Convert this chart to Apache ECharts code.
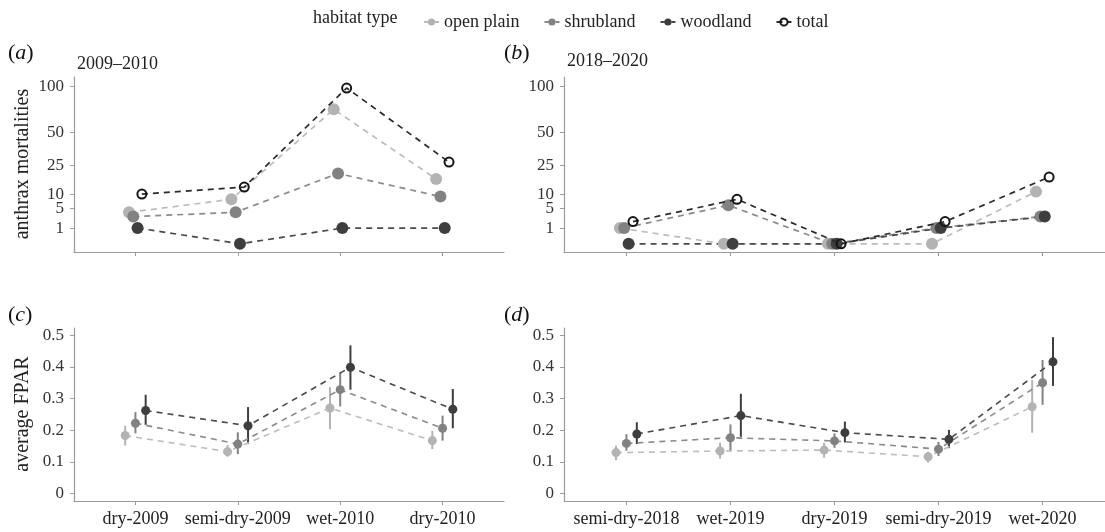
<!DOCTYPE html>
<html>
<head>
<meta charset="utf-8">
<script src="https://cdn.jsdelivr.net/npm/echarts@6/dist/echarts.min.js"></script>
<style>
html,body{margin:0;padding:0;background:#fff;}
#chart{width:1105px;height:532px;}
</style>
</head>
<body>
<div id="chart"></div>
<script>
// ---------- data ----------
const habitats = ['open plain', 'shrubland', 'woodland', 'total'];
const periodsA = ['dry-2009', 'semi-dry-2009', 'wet-2010', 'dry-2010'];
const periodsB = ['semi-dry-2018', 'wet-2019', 'dry-2019', 'semi-dry-2019', 'wet-2020'];
const mortTicks = [1, 5, 10, 25, 50, 100];
const fparTicks = [0, 0.1, 0.2, 0.3, 0.4, 0.5];

// anthrax mortalities (counts)
const mortA_open  = [4, 8, 73, 17];
const mortA_shrub = [3, 4, 20, 9];
const mortA_wood  = [1, 0, 1, 1];
const mortA_total = [10, 13, 98, 27];

const mortB_open  = [1, 0, 0, 0, 11];
const mortB_shrub = [1, 6, 0, 1, 3];
const mortB_wood  = [0, 0, 0, 1, 3];
const mortB_total = [2, 8, 0, 2, 18];

// average FPAR (mean, lower, upper)
const fparA_open      = [0.183, 0.132, 0.270, 0.167];
const fparA_open_lo   = [0.151, 0.116, 0.203, 0.140];
const fparA_open_hi   = [0.214, 0.153, 0.336, 0.198];
const fparA_shrub     = [0.222, 0.156, 0.328, 0.206];
const fparA_shrub_lo  = [0.190, 0.124, 0.275, 0.167];
const fparA_shrub_hi  = [0.257, 0.193, 0.383, 0.246];
const fparA_wood      = [0.262, 0.214, 0.399, 0.266];
const fparA_wood_lo   = [0.217, 0.156, 0.328, 0.206];
const fparA_wood_hi   = [0.312, 0.273, 0.468, 0.330];

const fparB_open      = [0.129, 0.134, 0.137, 0.116, 0.274];
const fparB_open_lo   = [0.105, 0.110, 0.113, 0.097, 0.192];
const fparB_open_hi   = [0.151, 0.161, 0.160, 0.132, 0.359];
const fparB_shrub     = [0.158, 0.176, 0.166, 0.140, 0.350];
const fparB_shrub_lo  = [0.135, 0.134, 0.144, 0.118, 0.280];
const fparB_shrub_hi  = [0.187, 0.218, 0.190, 0.163, 0.422];
const fparB_wood      = [0.188, 0.246, 0.192, 0.171, 0.416];
const fparB_wood_lo   = [0.156, 0.179, 0.161, 0.143, 0.340];
const fparB_wood_hi   = [0.225, 0.315, 0.227, 0.201, 0.494];

// ---------- styles ----------
const FONT = "'Liberation Serif','DejaVu Serif',serif";
const COL = {'open plain': '#b3b3b3', 'shrubland': '#828282', 'woodland': '#3e3e3e', 'total': '#151515'};
const LINECOL = {'open plain': '#bcbcbc', 'shrubland': '#8a8a8a', 'woodland': '#4a4a4a', 'total': '#2a2a2a'};
const AXCOL = '#9a9a9a';
const dodgeTop = {'open plain': -0.063, 'shrubland': -0.021, 'woodland': 0.021, 'total': 0.063};
const dodgeBot = {'open plain': -0.1, 'shrubland': 0, 'woodland': 0.1};

function mortSeries(g, name, vals) {
  const total = name === 'total';
  return {
    type: 'line', name: name, xAxisIndex: g, yAxisIndex: g,
    data: vals.map((v, i) => [i + dodgeTop[name], Math.sqrt(v)]),
    symbol: 'circle', symbolSize: total ? 9 : 12,
    itemStyle: total ? {color: 'rgba(255,255,255,0)', borderColor: COL.total, borderWidth: 2}
                     : {color: COL[name]},
    lineStyle: {color: LINECOL[name], width: 1.7, type: [6, 5]},
    z: total ? 5 : 3, animation: false, silent: true
  };
}
function fparSeries(g, name, vals) {
  return {
    type: 'line', name: name, xAxisIndex: g, yAxisIndex: g,
    data: vals.map((v, i) => [i + dodgeBot[name], v]),
    symbol: 'circle', symbolSize: 9,
    itemStyle: {color: COL[name]},
    lineStyle: {color: LINECOL[name], width: 1.6, type: [6, 5]},
    z: 4, animation: false, silent: true
  };
}
function errSeries(g, name, lo, hi) {
  return {
    type: 'custom', xAxisIndex: g, yAxisIndex: g,
    data: lo.map((l, i) => [i + dodgeBot[name], l, hi[i]]),
    encode: {x: 0, y: [1, 2]},
    renderItem: function (params, api) {
      const p1 = api.coord([api.value(0), api.value(1)]);
      const p2 = api.coord([api.value(0), api.value(2)]);
      return {type: 'line', shape: {x1: p1[0], y1: p1[1], x2: p2[0], y2: p2[1]},
              style: {stroke: COL[name], lineWidth: 2}};
    },
    z: 2, animation: false, silent: true
  };
}

function xAxisDef(g, cats, max, showLabels) {
  const idx = cats.map((c, i) => i);
  return {
    type: 'value', gridIndex: g, min: -0.6, max: max,
    splitLine: {show: false},
    axisLine: {show: true, onZero: false, lineStyle: {color: AXCOL, width: 1.2}},
    axisTick: {show: true, customValues: idx, length: 4, lineStyle: {color: AXCOL}},
    axisLabel: {show: showLabels, customValues: idx, margin: 9,
      formatter: v => cats[Math.round(v)] || '',
      fontFamily: FONT, fontSize: 18, color: '#222'}
  };
}
function yMortDef(g, min, max) {
  const vals = mortTicks.map(Math.sqrt);
  return {
    type: 'value', gridIndex: g, min: min, max: max,
    splitLine: {show: false},
    axisLine: {show: true, onZero: false, lineStyle: {color: AXCOL, width: 1.2}},
    axisTick: {show: true, customValues: vals, length: 4, lineStyle: {color: AXCOL}},
    axisLabel: {customValues: vals, margin: 10,
      formatter: v => String(Math.round(v * v)),
      fontFamily: FONT, fontSize: 17, color: '#333'}
  };
}
function yFparDef(g) {
  return {
    type: 'value', gridIndex: g, min: -0.024, max: 0.523,
    splitLine: {show: false},
    axisLine: {show: true, onZero: false, lineStyle: {color: AXCOL, width: 1.2}},
    axisTick: {show: true, customValues: fparTicks, length: 4, lineStyle: {color: AXCOL}},
    axisLabel: {customValues: fparTicks, margin: 10,
      formatter: v => (Math.abs(v) < 1e-9 ? '0' : (Math.round(v * 10) / 10).toFixed(1)),
      fontFamily: FONT, fontSize: 17, color: '#333'}
  };
}

function richLabel(x, y, letter) {
  return {type: 'text', x: x, y: y, silent: true,
    style: {
      text: '{p|(}{i|' + letter + '}{p|)}',
      rich: {
        p: {fontFamily: FONT, fontSize: 22, fill: '#111'},
        i: {fontFamily: FONT, fontSize: 22, fontStyle: 'italic', fill: '#111'}
      },
      textVerticalAlign: 'middle'
    }};
}
function plainText(x, y, txt, size, rot) {
  return {type: 'text', x: x, y: y, rotation: rot || 0, silent: true,
    style: {text: txt, fontFamily: FONT, fontSize: size, fill: '#222',
            textAlign: rot ? 'center' : 'left', textVerticalAlign: 'middle'}};
}

const chart = echarts.init(document.getElementById('chart'), null, {renderer: 'canvas'});
const option = {
  animation: false,
  backgroundColor: '#fff',
  legend: {
    data: habitats, left: 418, top: 8, itemWidth: 15, itemHeight: 9, itemGap: 24,
    textStyle: {fontFamily: FONT, fontSize: 18, color: '#222'},
    selectedMode: false
  },
  grid: [
    {left: 74, top: 77, width: 430, height: 175},
    {left: 564, top: 77, width: 549.6, height: 175},
    {left: 74, top: 328, width: 430, height: 173},
    {left: 564, top: 328, width: 549.6, height: 173}
  ],
  xAxis: [
    xAxisDef(0, periodsA, 3.6, false),
    xAxisDef(1, periodsB, 4.6, false),
    xAxisDef(2, periodsA, 3.6, true),
    xAxisDef(3, periodsB, 4.6, true)
  ],
  yAxis: [
    yMortDef(0, -0.52, 10.6),
    yMortDef(1, -0.52, 10.6),
    yFparDef(2),
    yFparDef(3)
  ],
  graphic: [
    plainText(313, 18, 'habitat type', 18),
    richLabel(8, 53, 'a'),
    plainText(77, 64, '2009–2010', 18),
    richLabel(504, 53, 'b'),
    plainText(567, 61, '2018–2020', 18),
    richLabel(8, 315, 'c'),
    richLabel(504, 315, 'd'),
    plainText(23, 164, 'anthrax mortalities', 20, Math.PI / 2),
    plainText(23, 414, 'average FPAR', 20, Math.PI / 2)
  ],
  series: [
    mortSeries(0, 'open plain', mortA_open),
    mortSeries(0, 'shrubland', mortA_shrub),
    mortSeries(0, 'woodland', mortA_wood),
    mortSeries(0, 'total', mortA_total),
    mortSeries(1, 'open plain', mortB_open),
    mortSeries(1, 'shrubland', mortB_shrub),
    mortSeries(1, 'woodland', mortB_wood),
    mortSeries(1, 'total', mortB_total),
    errSeries(2, 'open plain', fparA_open_lo, fparA_open_hi),
    errSeries(2, 'shrubland', fparA_shrub_lo, fparA_shrub_hi),
    errSeries(2, 'woodland', fparA_wood_lo, fparA_wood_hi),
    fparSeries(2, 'open plain', fparA_open),
    fparSeries(2, 'shrubland', fparA_shrub),
    fparSeries(2, 'woodland', fparA_wood),
    errSeries(3, 'open plain', fparB_open_lo, fparB_open_hi),
    errSeries(3, 'shrubland', fparB_shrub_lo, fparB_shrub_hi),
    errSeries(3, 'woodland', fparB_wood_lo, fparB_wood_hi),
    fparSeries(3, 'open plain', fparB_open),
    fparSeries(3, 'shrubland', fparB_shrub),
    fparSeries(3, 'woodland', fparB_wood)
  ]
};
chart.setOption(option);
</script>
</body>
</html>
